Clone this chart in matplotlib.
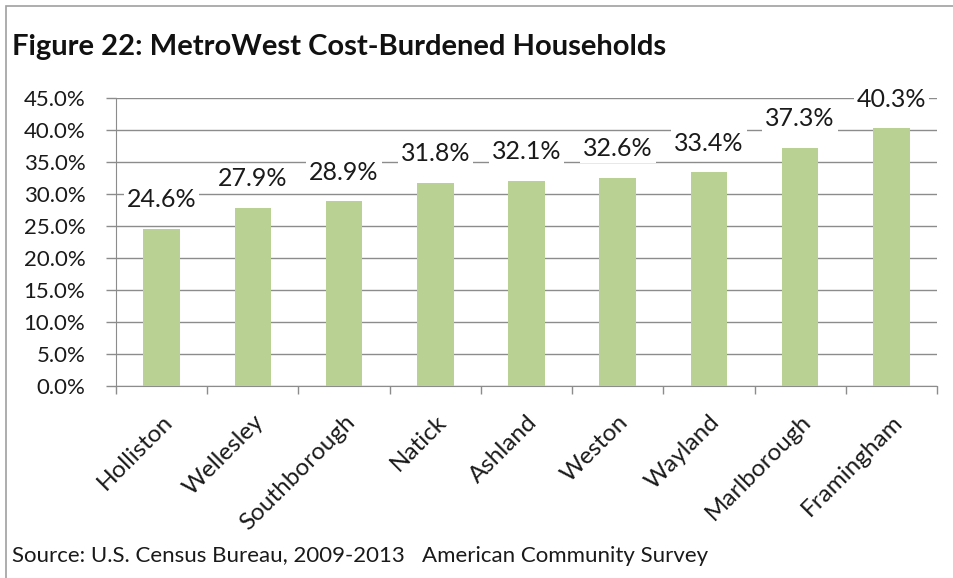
import matplotlib

matplotlib.use("Agg")
import matplotlib.pyplot as plt
from matplotlib.patches import Rectangle
from matplotlib.ticker import FixedLocator

towns = ["Holliston", "Wellesley", "Southborough", "Natick", "Ashland",
         "Weston", "Wayland", "Marlborough", "Framingham"]
burdened_pct = [24.6, 27.9, 28.9, 31.8, 32.1, 32.6, 33.4, 37.3, 40.3]
y_ticks = [0, 5, 10, 15, 20, 25, 30, 35, 40, 45]

BAR = "#b9d192"
GRID = "#8c8c8c"
TEXT = "#1a1a1a"

plt.rcParams["font.family"] = ["Lato", "DejaVu Sans"]

fig = plt.figure(figsize=(9.54, 5.78), dpi=100)
fig.patches.append(Rectangle((0.006, -0.01), 0.994, 1.0, transform=fig.transFigure,
                             fill=False, edgecolor="#a0a0a0", linewidth=1.2))

ax = fig.add_axes([0.1216, 0.332, 0.8606, 0.498])
x = list(range(len(towns)))
ax.bar(x, burdened_pct, width=0.4, color=BAR, zorder=3)

ax.set_xlim(-0.5, len(towns) - 0.5)
ax.set_ylim(0, 45)
ax.set_yticks(y_ticks)
ax.set_yticklabels([f"{v:.1f}%" for v in y_ticks], fontsize=16, color=TEXT)
ax.yaxis.grid(True, color=GRID, linewidth=1.0, zorder=0)
ax.tick_params(axis="y", length=7, width=1, color=GRID, pad=15)

ax.set_xticks(x)
ax.set_xticklabels(towns, rotation=45, ha="right", rotation_mode="anchor",
                   fontsize=17.5, color=TEXT)
ax.tick_params(axis="x", which="major", length=0, pad=18)
ax.xaxis.set_minor_locator(FixedLocator([i + 0.5 for i in range(-1, len(towns))]))
ax.tick_params(axis="x", which="minor", length=6, width=1, color=GRID)

for side in ("top", "right"):
    ax.spines[side].set_visible(False)
for side in ("left", "bottom"):
    ax.spines[side].set_color(GRID)

for xi, v in zip(x, burdened_pct):
    ax.annotate(f"{v:.1f}%", (xi, v), xytext=(0, 21), textcoords="offset points",
                ha="center", va="center", fontsize=18, color=TEXT,
                bbox=dict(boxstyle="square,pad=0.12", facecolor="white", edgecolor="none"),
                zorder=4)

fig.text(0.013, 0.919, "Figure 22: MetroWest Cost-Burdened Households",
         fontsize=21, fontweight="bold", color="#111111", va="center", ha="left")
fig.text(0.013, 0.038, "Source: U.S. Census Bureau, 2009-2013   American Community Survey",
         fontsize=16, color=TEXT, va="center", ha="left")

fig.savefig("out.png", dpi=100)
